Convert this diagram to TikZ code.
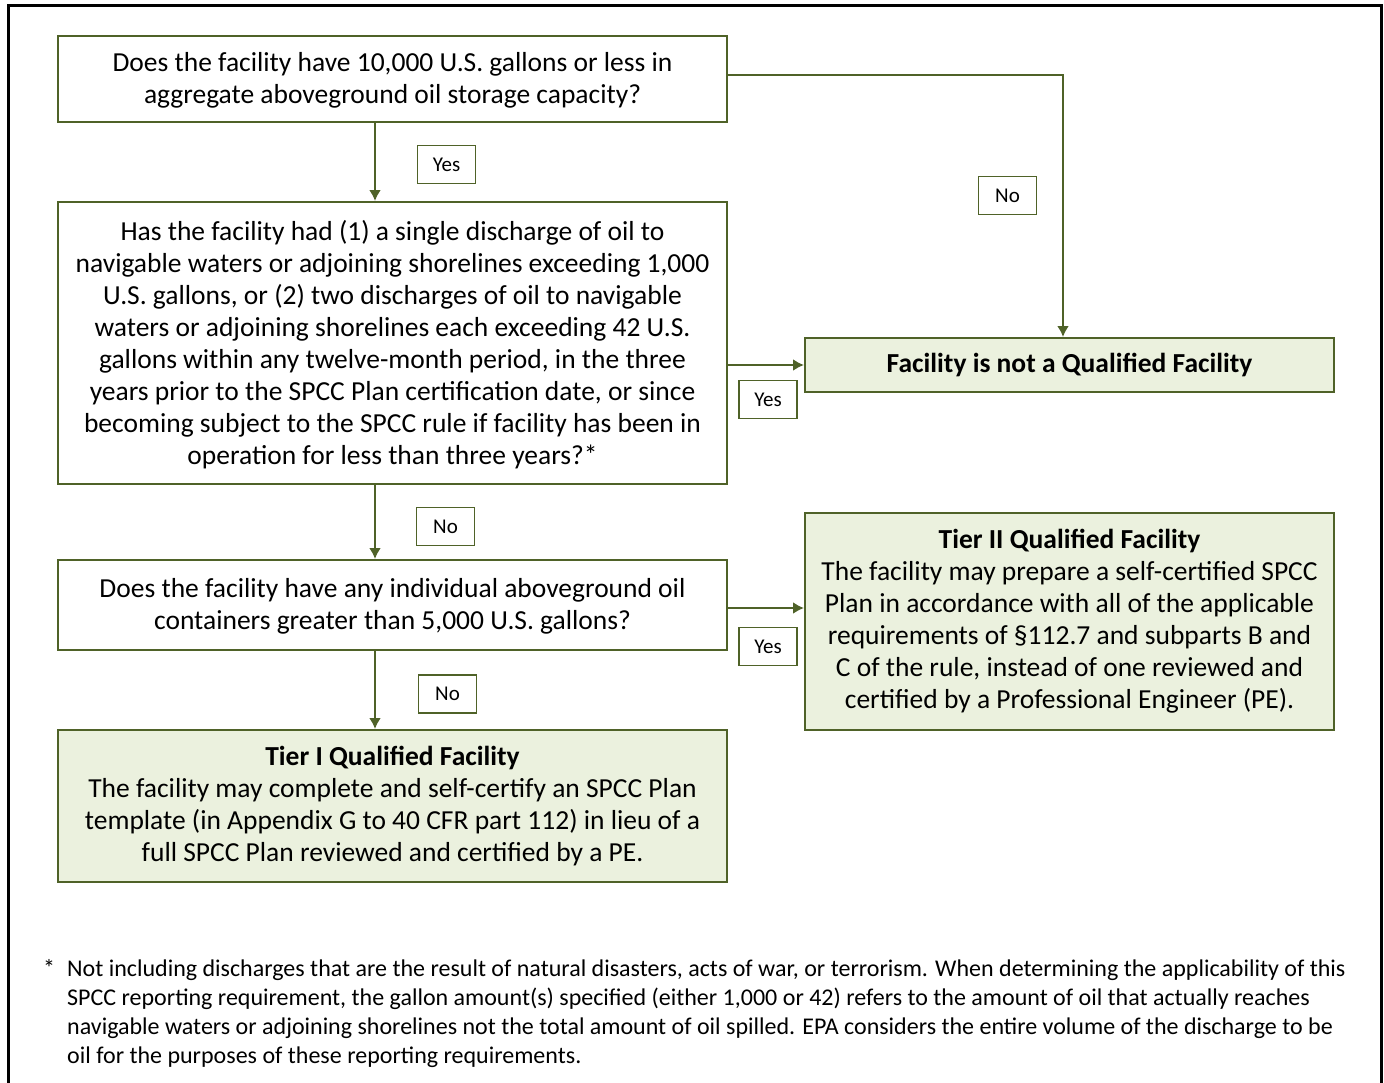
\documentclass[tikz,border=0pt]{standalone}
\usepackage{fontspec}
\setmainfont{Carlito}
\usepackage{tikz}
\usetikzlibrary{shapes,arrows.meta}
\definecolor{boxline}{HTML}{4F6228}
\definecolor{boxfill}{HTML}{EBF1DE}
\newcommand*{\boxfont}{\fontsize{27.5}{32}\selectfont}

\begin{document}
\begin{tikzpicture}[x=1pt,y=-1pt,
    block_question/.style ={rectangle, draw=boxline, line width=2pt, fill=white,
      minimum width=669pt, align=center, font=\boxfont, inner sep=4pt,
      text depth=2pt},
    block_result/.style ={rectangle, draw=boxline, line width=2pt, fill=boxfill,
      align=center, font=\boxfont, inner sep=4pt},
    block_label/.style ={rectangle, draw=boxline, line width=1.6pt, fill=white,
      minimum width=58pt, minimum height=38pt, inner sep=0pt,
      font=\fontsize{21}{24}\selectfont},
      line/.style ={draw=boxline, line width=2.5pt, -{Latex[length=11pt,width=12pt]}}]
    \useasboundingbox (0,0) rectangle (1384,1082);
    % outer frame
    \draw [line width=3pt] (8,5) rectangle (1381,1100);
    % decision boxes, left column
    \node [block_question, minimum height=86pt] (q_capacity) at (392.5,79)
      {Does the facility have 10,000 U.S. gallons or less in\\
       aggregate aboveground oil storage capacity?};
    \node [block_question, minimum height=282pt] (q_discharge) at (392.5,343)
      {Has the facility had (1) a single discharge of oil to\\
       navigable waters or adjoining shorelines exceeding 1,000\\
       U.S. gallons, or (2) two discharges of oil to navigable\\
       waters or adjoining shorelines each exceeding 42 U.S.\\
       gallons within any twelve-month period, in the three\\
       years prior to the SPCC Plan certification date, or since\\
       becoming subject to the SPCC rule if facility has been in\\
       operation for less than three years?*};
    \node [block_question, minimum height=90pt] (q_containers) at (392.5,605)
      {Does the facility have any individual aboveground oil\\
       containers greater than 5,000 U.S. gallons?};
    \node [block_result, minimum width=669pt, minimum height=152pt] (tier_one) at (392.5,806)
      {\textbf{Tier I Qualified Facility}\\
       The facility may complete and self-certify an SPCC Plan\\
       template (in Appendix G to 40 CFR part 112) in lieu of a\\
       full SPCC Plan reviewed and certified by a PE.};
    % outcome boxes, right column
    \node [block_result, minimum width=529pt, minimum height=54pt] (not_qualified) at (1069.5,365)
      {\textbf{Facility is not a Qualified Facility}};
    \node [block_result, minimum width=529pt, minimum height=217pt] (tier_two) at (1069.5,621.5)
      {\textbf{Tier II Qualified Facility}\\
       The facility may prepare a self-certified SPCC\\
       Plan in accordance with all of the applicable\\
       requirements of §112.7 and subparts B and\\
       C of the rule, instead of one reviewed and\\
       certified by a Professional Engineer (PE).};
    % answer labels
    \node [block_label] (yes_capacity) at (446.5,164.5) {Yes};
    \node [block_label] (no_capacity) at (1007.5,195.5) {No};
    \node [block_label] (yes_discharge) at (768,399.5) {Yes};
    \node [block_label] (no_discharge) at (445.5,526.5) {No};
    \node [block_label] (yes_containers) at (768,646.5) {Yes};
    \node [block_label] (no_containers) at (447.5,694) {No};
    % footnote
    \node [anchor=north west, align=left, inner sep=0pt,
      font=\fontsize{24}{29}\selectfont] (footnote) at (67,959)
      {\llap{*\hspace{12pt}}Not including discharges that are the result of natural disasters, acts of war, or terrorism. When determining the applicability of this\\
       SPCC reporting requirement, the gallon amount(s) specified (either 1,000 or 42) refers to the amount of oil that actually reaches\\
       navigable waters or adjoining shorelines not the total amount of oil spilled. EPA considers the entire volume of the discharge to be\\
       oil for the purposes of these reporting requirements.};
    % connecting nodes with paths
    \begin{scope}[every path/.style=line]
      \path (q_capacity.south -| 375,0) -- (q_discharge.north -| 375,0);
      \path (q_capacity.east |- 0,75) -| (not_qualified.north -| 1063,0);
      \path (q_discharge.east |- not_qualified) -- (not_qualified.west);
      \path (q_discharge.south -| 375,0) -- (q_containers.north -| 375,0);
      \path (q_containers.east |- 0,608) -- (tier_two.west |- 0,608);
      \path (q_containers.south -| 375,0) -- (tier_one.north -| 375,0);
    \end{scope}
\end{tikzpicture}
\end{document}
